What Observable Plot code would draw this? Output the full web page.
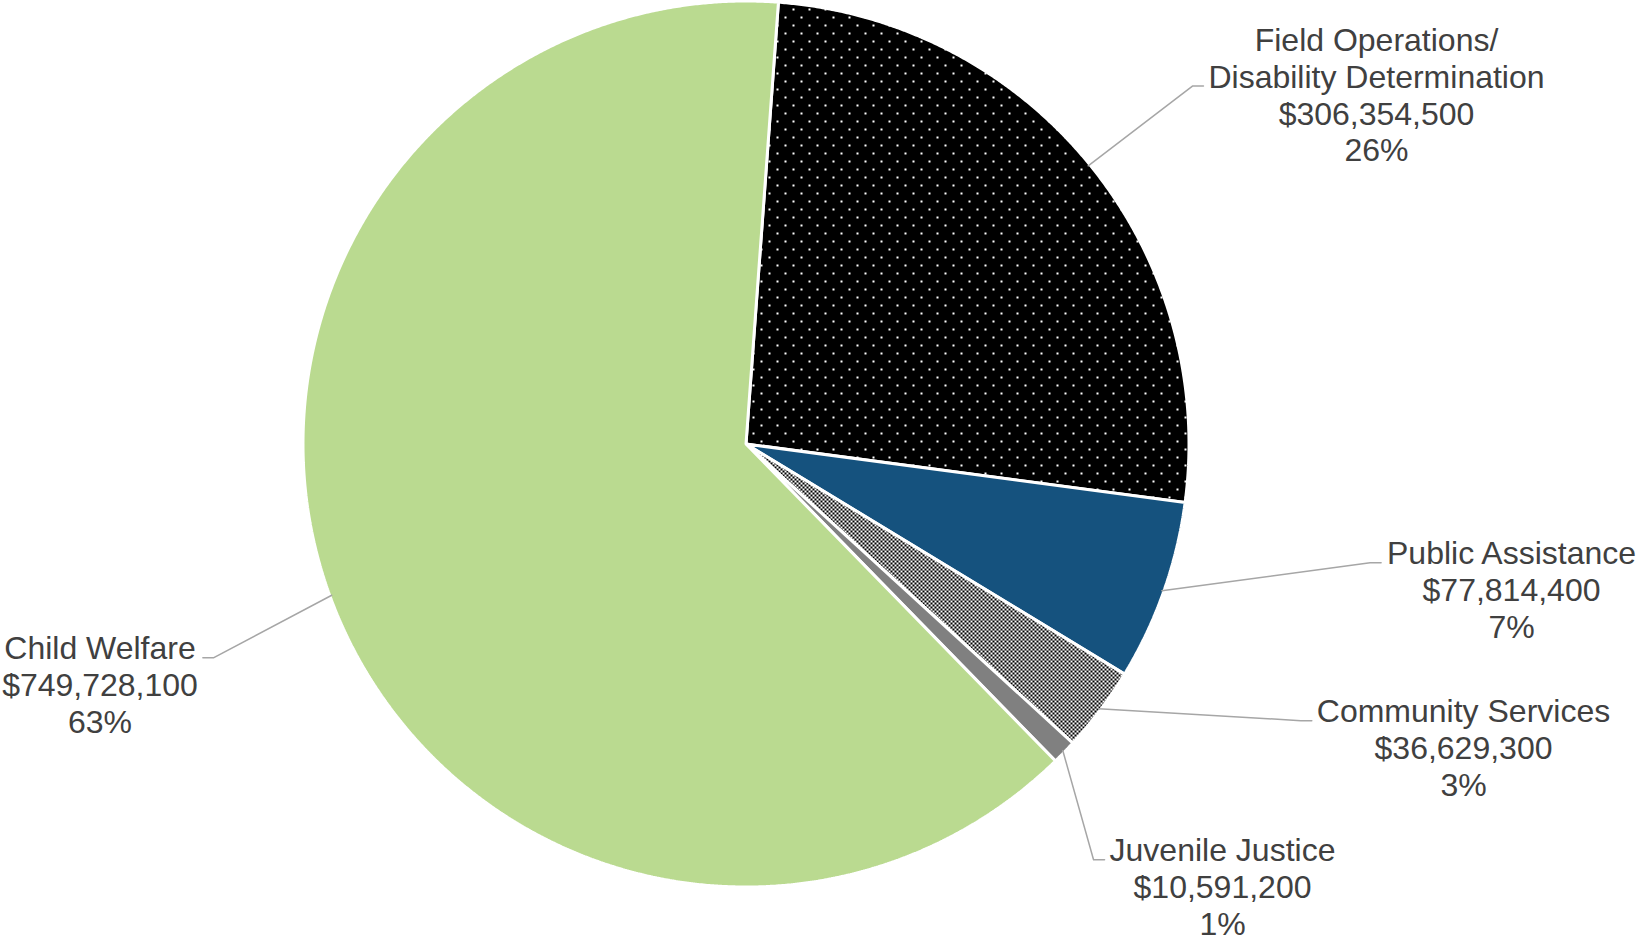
<!DOCTYPE html>
<html>
<head>
<meta charset="utf-8">
<script src="https://cdn.jsdelivr.net/npm/d3@7"></script>
<script src="https://cdn.jsdelivr.net/npm/@observablehq/plot@0.6"></script>
<style>
  html, body { margin: 0; padding: 0; background: #ffffff; }
  #chart svg { display: block; }
</style>
</head>
<body>
<div id="chart"></div>
<script>
// ---------- data ----------
const categories = [
  "Field Operations/\nDisability Determination",
  "Public Assistance",
  "Community Services",
  "Juvenile Justice",
  "Child Welfare"
];
const amounts = [306354500, 77814400, 36629300, 10591200, 749728100];

// ---------- styles / layout (not data) ----------
const W = 1637, H = 943;
const FONT = "Liberation Sans, Arial, sans-serif";
const FS = 32, LH = 1.15;
const pie = {cx: 745.5, cy: 443.5, r: 443, startDeg: 4.2};
const fills = ["url(#dots)", "#15527E", "url(#checks)", "#808080", "#BADA90"];
// label block centre and which text line the leader attaches to; side = which side of the pie
const labelLayout = [
  {cx: 1376, cy: 94, line: 1, side: "right"},
  {cx: 1511, cy: 589, line: 0, side: "right"},
  {cx: 1463, cy: 747, line: 0, side: "right"},
  {cx: 1222, cy: 886, line: 0, side: "right"},
  {cx: 99.5, cy: 684, line: 0, side: "left"}
];

// ---------- derived ----------
const total = d3.sum(amounts);
const fmt = d3.format(",");
const rad = d => d * Math.PI / 180;
const polar = (deg, r) => [pie.cx + r * Math.sin(rad(deg)), pie.cy - r * Math.cos(rad(deg))];

let acc = pie.startDeg;
const slices = categories.map((name, i) => {
  const span = amounts[i] / total * 360;
  const s = {name, value: amounts[i], a0: acc, a1: acc + span, mid: acc + span / 2};
  acc += span;
  return s;
});

// sector polygons
const slicePts = [];
for (const s of slices) {
  slicePts.push({name: s.name, x: pie.cx, y: pie.cy});
  const n = Math.max(4, Math.ceil((s.a1 - s.a0) / 0.25));
  for (let k = 0; k <= n; k++) {
    const a = s.a0 + (s.a1 - s.a0) * k / n;
    const [x, y] = polar(a, pie.r);
    slicePts.push({name: s.name, x, y});
  }
}

// label texts
const labels = slices.map((s, i) => ({
  name: s.name,
  text: `${s.name}\n$${fmt(s.value)}\n${Math.round(s.value / total * 100)}%`,
  x: labelLayout[i].cx,
  y: labelLayout[i].cy
}));

// text measuring for leader attachment
const ctx = document.createElement("canvas").getContext("2d");
ctx.font = `${FS}px ${FONT}`;
const leaderPts = [];
slices.forEach((s, i) => {
  const L = labelLayout[i];
  const lines = labels[i].text.split("\n");
  const w = d3.max(lines, t => ctx.measureText(t).width);
  const lineGap = FS * LH;
  const lineY = L.cy + (L.line - (lines.length - 1) / 2) * lineGap + 10;
  const endX = L.side === "right" ? L.cx - w / 2 - 5 : L.cx + w / 2 + 5;
  const elbowX = L.side === "right" ? endX - 11 : endX + 11;
  const [px, py] = polar(s.mid, pie.r - 2);
  leaderPts.push({name: s.name, x: px, y: py});
  leaderPts.push({name: s.name, x: elbowX, y: lineY});
  leaderPts.push({name: s.name, x: endX, y: lineY});
});

const chart = Plot.plot({
  width: W,
  height: H,
  margin: 0,
  style: {background: "#ffffff", fontFamily: FONT},
  x: {domain: [0, W], range: [0, W], axis: null},
  y: {domain: [0, H], range: [0, H], axis: null},
  color: {type: "ordinal", domain: categories, range: fills},
  marks: [
    Plot.line(slicePts, {x: "x", y: "y", z: "name", fill: "name", stroke: "#ffffff", strokeWidth: 3, strokeLinejoin: "miter", curve: "linear-closed"}),
    Plot.line(leaderPts, {x: "x", y: "y", z: "name", stroke: "#A6A6A6", strokeWidth: 1.5}),
    Plot.text(labels, {x: "x", y: "y", text: "text", fontSize: FS, lineHeight: LH, fill: "#404040", textAnchor: "middle", lineAnchor: "middle", fontFamily: FONT})
  ]
});

// patterns
const defs = d3.select(chart).insert("defs", ":first-child");
const dots = defs.append("pattern").attr("id", "dots").attr("patternUnits", "userSpaceOnUse").attr("width", 16).attr("height", 16);
dots.append("rect").attr("width", 16).attr("height", 16).attr("fill", "#000000");
dots.append("rect").attr("x", 0).attr("y", 0).attr("width", 2).attr("height", 2).attr("fill", "#ffffff");
dots.append("rect").attr("x", 8).attr("y", 8).attr("width", 2).attr("height", 2).attr("fill", "#ffffff");
const checks = defs.append("pattern").attr("id", "checks").attr("patternUnits", "userSpaceOnUse").attr("width", 4).attr("height", 4);
checks.append("rect").attr("width", 4).attr("height", 4).attr("fill", "#ffffff");
checks.append("rect").attr("x", 0).attr("y", 0).attr("width", 2).attr("height", 2).attr("fill", "#000000");
checks.append("rect").attr("x", 2).attr("y", 2).attr("width", 2).attr("height", 2).attr("fill", "#000000");

document.getElementById("chart").appendChild(chart);
</script>
</body>
</html>
